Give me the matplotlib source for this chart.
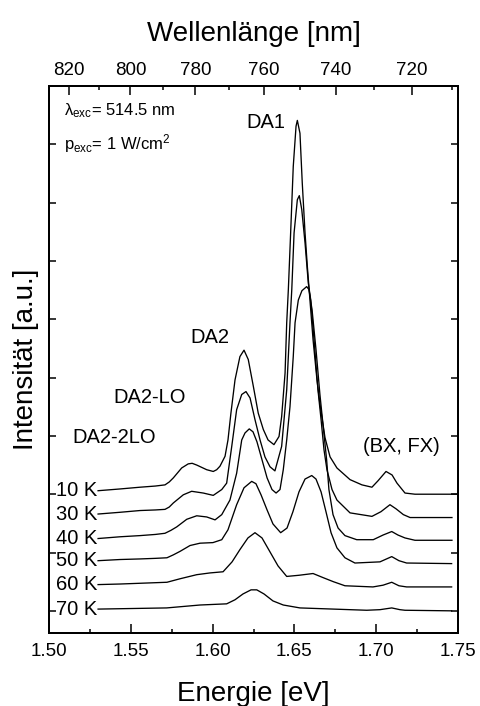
import numpy as np
import matplotlib
matplotlib.use("Agg")
import matplotlib.pyplot as plt

plt.rcParams['font.family'] = ['Liberation Sans', 'DejaVu Sans']
plt.rcParams['mathtext.fontset'] = 'custom'
plt.rcParams['mathtext.rm'] = 'Liberation Sans'
plt.rcParams['mathtext.it'] = 'Liberation Sans:italic'
plt.rcParams['mathtext.bf'] = 'Liberation Sans:bold'

# ---- PL spectra (energy in eV, intensity in a.u. above each trace's own baseline) ----
temperatures = ['10 K', '30 K', '40 K', '50 K', '60 K', '70 K']
offsets = [2.0, 1.6, 1.2, 0.8, 0.4, 0.0]

energy_10K = [1.5300, 1.5434, 1.5556, 1.5650, 1.5709, 1.5735, 1.5760, 1.5811, 1.5851, 1.5875,
              1.5903, 1.5964, 1.6004, 1.6025, 1.6045, 1.6076, 1.6094, 1.6112, 1.6137, 1.6167,
              1.6192, 1.6218, 1.6249, 1.6279, 1.6310, 1.6339, 1.6375, 1.6406, 1.6422, 1.6443,
              1.6453, 1.6463, 1.6477, 1.6493, 1.6510, 1.6518, 1.6534, 1.6548, 1.6565, 1.6579,
              1.6595, 1.6614, 1.6638, 1.6657, 1.6687, 1.6718, 1.6760, 1.6840, 1.6913, 1.6974,
              1.7011, 1.7060, 1.7097, 1.7127, 1.7176, 1.7237, 1.7500]
pl_10K = [0.06, 0.09, 0.12, 0.14, 0.16, 0.21, 0.28, 0.45, 0.52, 0.53,
          0.50, 0.42, 0.39, 0.42, 0.48, 0.65, 0.93, 1.39, 1.96, 2.36,
          2.47, 2.31, 1.85, 1.39, 1.11, 0.93, 0.85, 0.99, 1.33, 2.08,
          2.94, 3.51, 4.48, 5.62, 6.31, 6.41, 6.19, 5.34, 4.48, 3.91,
          3.33, 2.65, 1.96, 1.53, 0.97, 0.64, 0.45, 0.25, 0.16, 0.12,
          0.23, 0.39, 0.33, 0.19, 0.02, 0.00, 0.00]

energy_30K = [1.5300, 1.5434, 1.5556, 1.5650, 1.5709, 1.5735, 1.5760, 1.5821, 1.5872, 1.5943,
              1.6004, 1.6056, 1.6086, 1.6117, 1.6147, 1.6178, 1.6204, 1.6229, 1.6259, 1.6290,
              1.6320, 1.6351, 1.6381, 1.6422, 1.6453, 1.6473, 1.6484, 1.6498, 1.6518, 1.6530,
              1.6545, 1.6565, 1.6585, 1.6600, 1.6620, 1.6644, 1.6663, 1.6681, 1.6699, 1.6730,
              1.6760, 1.6840, 1.6974, 1.7029, 1.7084, 1.7121, 1.7166, 1.7207, 1.7463]
pl_30K = [0.06, 0.09, 0.12, 0.13, 0.14, 0.18, 0.25, 0.39, 0.45, 0.42,
          0.38, 0.48, 0.59, 1.22, 1.85, 2.11, 2.16, 2.05, 1.68, 1.33,
          1.04, 0.87, 0.80, 1.22, 2.19, 3.34, 3.91, 4.88, 5.45, 5.52,
          5.28, 4.71, 4.02, 3.73, 3.05, 2.19, 1.68, 1.16, 0.82, 0.48,
          0.30, 0.08, 0.02, 0.10, 0.22, 0.15, 0.05, 0.00, 0.00]

energy_40K = [1.5300, 1.5434, 1.5556, 1.5650, 1.5709, 1.5745, 1.5781, 1.5842, 1.5903, 1.5964,
              1.6015, 1.6056, 1.6106, 1.6147, 1.6178, 1.6198, 1.6224, 1.6247, 1.6271, 1.6302,
              1.6333, 1.6363, 1.6388, 1.6412, 1.6432, 1.6453, 1.6473, 1.6493, 1.6504, 1.6524,
              1.6546, 1.6575, 1.6589, 1.6608, 1.6632, 1.6656, 1.6675, 1.6697, 1.6711, 1.6736,
              1.6767, 1.6809, 1.6881, 1.6982, 1.7042, 1.7095, 1.7133, 1.7176, 1.7237, 1.7463]
pl_40K = [0.04, 0.07, 0.09, 0.11, 0.13, 0.18, 0.24, 0.37, 0.43, 0.41,
          0.36, 0.45, 0.70, 1.16, 1.73, 1.85, 1.92, 1.87, 1.70, 1.39,
          1.08, 0.88, 0.82, 0.88, 1.22, 1.73, 2.30, 3.16, 3.74, 4.13,
          4.29, 4.36, 4.31, 3.96, 3.28, 2.51, 1.99, 1.39, 0.88, 0.45,
          0.22, 0.09, 0.02, 0.02, 0.10, 0.16, 0.10, 0.05, 0.01, 0.01]

energy_50K = [1.5300, 1.5434, 1.5556, 1.5650, 1.5721, 1.5760, 1.5801, 1.5862, 1.5923, 1.6002,
              1.6056, 1.6094, 1.6147, 1.6192, 1.6239, 1.6265, 1.6296, 1.6333, 1.6369, 1.6416,
              1.6455, 1.6491, 1.6528, 1.6565, 1.6606, 1.6632, 1.6663, 1.6693, 1.6724, 1.6760,
              1.6809, 1.6870, 1.7023, 1.7095, 1.7139, 1.7186, 1.7461]
pl_50K = [0.06, 0.08, 0.09, 0.10, 0.11, 0.16, 0.22, 0.32, 0.36, 0.37,
          0.42, 0.59, 1.02, 1.31, 1.42, 1.38, 1.19, 0.93, 0.69, 0.54,
          0.62, 0.90, 1.24, 1.46, 1.52, 1.46, 1.24, 0.90, 0.54, 0.28,
          0.11, 0.02, 0.04, 0.13, 0.06, 0.02, 0.01]

energy_60K = [1.5300, 1.5434, 1.5721, 1.5801, 1.5903, 1.5984, 1.6064, 1.6119, 1.6167, 1.6216,
              1.6259, 1.6302, 1.6351, 1.6400, 1.6453, 1.6528, 1.6614, 1.6675, 1.6738, 1.6809,
              1.6980, 1.7042, 1.7095, 1.7139, 1.7186, 1.7461]
pl_60K = [0.05, 0.06, 0.09, 0.15, 0.22, 0.25, 0.27, 0.44, 0.65, 0.85,
          0.94, 0.85, 0.61, 0.37, 0.19, 0.21, 0.24, 0.17, 0.10, 0.03,
          0.01, 0.04, 0.09, 0.03, 0.01, 0.01]

energy_70K = [1.5300, 1.5719, 1.5923, 1.6086, 1.6137, 1.6186, 1.6235, 1.6270, 1.6314, 1.6369,
              1.6432, 1.6534, 1.6738, 1.6942, 1.7023, 1.7095, 1.7145, 1.7176, 1.7461]
pl_70K = [0.03, 0.05, 0.10, 0.12, 0.19, 0.29, 0.36, 0.36, 0.29, 0.17,
          0.10, 0.05, 0.03, 0.01, 0.02, 0.05, 0.02, 0.01, 0.00]

energies = [energy_10K, energy_30K, energy_40K, energy_50K, energy_60K, energy_70K]
spectra = [pl_10K, pl_30K, pl_40K, pl_50K, pl_60K, pl_70K]

energy_ticks = [1.50, 1.55, 1.60, 1.65, 1.70, 1.75]
wavelength_major = [820, 800, 780, 760, 740, 720]
wavelength_minor = [810, 790, 770, 750, 730, 710]
HC = 1239.84  # eV*nm

# ---- figure ----
fig = plt.figure(figsize=(4.81, 7.06), dpi=100)
ax = fig.add_axes([49 / 481, 1 - 633 / 706, 409 / 481, 547 / 706])

for E, I, off, T in zip(energies, spectra, offsets, temperatures):
    y = np.asarray(I) + off
    ax.plot(E, y, color='black', lw=0.95, solid_joinstyle='round')
    ax.text(E[0] - 0.0006, y[0], T, ha='right', va='center', fontsize=14.5)

ax.set_xlim(1.50, 1.75)
ax.set_ylim(-0.38, 9.0)
ax.set_xticks(energy_ticks)
ax.set_xticklabels([f'{v:.2f}' for v in energy_ticks])
ax.set_xticks(np.arange(1.525, 1.75, 0.05), minor=True)
ax.set_yticks(range(0, 10))
ax.tick_params(axis='x', which='major', direction='in', length=6.5, width=1.1,
               pad=7, labelsize=13.5, top=False)
ax.tick_params(axis='x', which='minor', direction='in', length=3.2, width=1.1, top=False)
ax.tick_params(axis='y', which='both', direction='in', length=5, width=1.1,
               left=True, right=True, labelleft=False)
for s in ax.spines.values():
    s.set_linewidth(1.4)

ax.set_xlabel('Energie [eV]', fontsize=20)
ax.xaxis.set_label_coords(0.5, -0.088)
ax.set_ylabel('Intensität [a.u.]', fontsize=20)
ax.yaxis.set_label_coords(-0.025, 0.5)

# wavelength scale on top
ax2 = ax.twiny()
ax2.set_xlim(ax.get_xlim())
ax2.set_xticks([HC / w for w in wavelength_major])
ax2.set_xticklabels([str(w) for w in wavelength_major])
ax2.set_xticks([HC / w for w in wavelength_minor], minor=True)
ax2.tick_params(axis='x', which='major', direction='in', length=6.5, width=1.1,
                pad=5, labelsize=13.5)
ax2.tick_params(axis='x', which='minor', direction='in', length=3.2, width=1.1)
for s in ax2.spines.values():
    s.set_linewidth(1.4)
ax2.set_xlabel('Wellenlänge [nm]', fontsize=20)
ax2.xaxis.set_label_coords(0.5, 1.083)

# annotations
ax.text(1.5092, 8.49, 'λ$_{\\mathrm{exc}}$= 514.5 nm', fontsize=12, ha='left', va='baseline')
ax.text(1.5092, 7.92, 'p$_{\\mathrm{exc}}$= 1 W/cm$^{2}$', fontsize=12, ha='left', va='baseline')
ax.text(1.6326, 8.37, 'DA1', fontsize=14.5, ha='center', va='center')
ax.text(1.5984, 4.68, 'DA2', fontsize=14.5, ha='center', va='center')
ax.text(1.5617, 3.65, 'DA2-LO', fontsize=14.5, ha='center', va='center')
ax.text(1.5397, 2.98, 'DA2-2LO', fontsize=14.5, ha='center', va='center')
ax.text(1.7152, 2.81, '(BX, FX)', fontsize=14.5, ha='center', va='center')

fig.savefig('out.png', dpi=100)
